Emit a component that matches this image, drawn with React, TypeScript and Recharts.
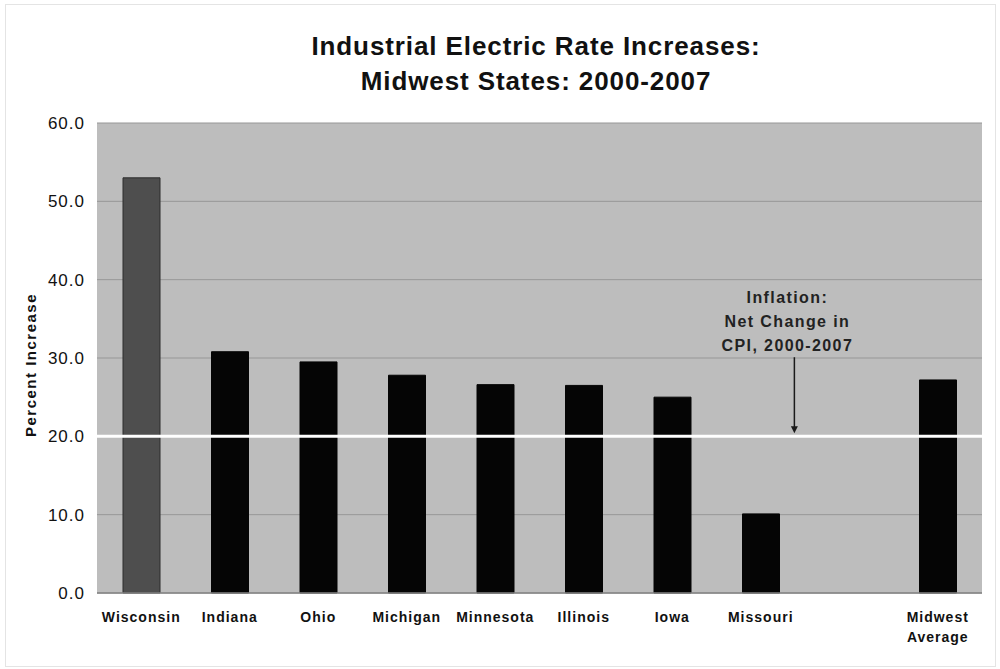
import { BarChart, Bar, XAxis, YAxis, CartesianGrid, ReferenceLine, Cell } from "recharts";

const states = [
  "Wisconsin",
  "Indiana",
  "Ohio",
  "Michigan",
  "Minnesota",
  "Illinois",
  "Iowa",
  "Missouri",
  "",
  "Midwest Average",
];
const increases = [53.0, 30.8, 29.5, 27.8, 26.6, 26.5, 25.0, 10.1, null, 27.2];
const yTicks = [0, 10, 20, 30, 40, 50, 60];
const inflation = 20.0;
const noteLines = ["Inflation:", "Net Change in", "CPI, 2000-2007"];
// arrow position on a hidden 0-10 axis (one unit per category slot)
const arrowX = 7.88;
const arrowTop = 30.1;
const arrowBottom = 20.4;

const data = states.map((state, i) => ({ state, slot: i + 0.5, increase: increases[i] }));

const FONT = "'Liberation Sans', Arial, Helvetica, sans-serif";

function StateTick({ x, y, payload }: any) {
  const words = payload.value === "Midwest Average" ? ["Midwest", "Average"] : [payload.value];
  return (
    <text
      x={x}
      y={y}
      textAnchor="middle"
      fontSize={14}
      fontWeight="bold"
      letterSpacing={1}
      fill="#111"
      fontFamily={FONT}
    >
      {words.map((w: string, i: number) => (
        <tspan key={i} x={x} dy={i === 0 ? 29 : 20}>
          {w}
        </tspan>
      ))}
    </text>
  );
}

function InflationNote({ x1, y1, x2, y2 }: any) {
  return (
    <g>
      {noteLines.map((line, i) => (
        <text
          key={i}
          x={x1 - 7}
          y={y1 - 54 + i * 24}
          textAnchor="middle"
          fontSize={16}
          fontWeight="bold"
          letterSpacing={1.4}
          fill="#222"
          fontFamily={FONT}
        >
          {line}
        </text>
      ))}
      <line x1={x1} y1={y1} x2={x2} y2={y2 - 5} stroke="#1a1a1a" strokeWidth={1.5} />
      <polygon points={`${x2 - 3.5},${y2 - 7} ${x2 + 3.5},${y2 - 7} ${x2},${y2}`} fill="#1a1a1a" />
    </g>
  );
}

function AxisTitle({ viewBox }: any) {
  const cx = viewBox.x + 30;
  const cy = viewBox.y + viewBox.height / 2 + 7;
  return (
    <text
      x={cx}
      y={cy}
      transform={`rotate(-90, ${cx}, ${cy})`}
      textAnchor="middle"
      dominantBaseline="central"
      fontSize={15}
      fontWeight="bold"
      letterSpacing={1.5}
      fill="#111"
      fontFamily={FONT}
    >
      Percent Increase
    </text>
  );
}

export default function App() {
  return (
    <div
      style={{
        position: "absolute",
        left: 0,
        top: 0,
        width: 1000,
        height: 669,
        background: "#fff",
        fontFamily: FONT,
      }}
    >
      <div
        style={{
          position: "absolute",
          left: 5,
          top: 4,
          width: 989,
          height: 661,
          border: "1px solid #e4e4e4",
        }}
      />
      <div
        style={{
          position: "absolute",
          left: 186,
          top: 29,
          width: 700,
          textAlign: "center",
          fontSize: 26,
          fontWeight: "bold",
          letterSpacing: 0.9,
          lineHeight: "35px",
          color: "#111",
        }}
      >
        Industrial Electric Rate Increases:
        <br />
        Midwest States: 2000-2007
      </div>
      <BarChart
        width={1000}
        height={669}
        data={data}
        margin={{ top: 123, right: 18, left: 0, bottom: 16 }}
        style={{ position: "absolute", left: 0, top: 0 }}
      >
        <CartesianGrid vertical={false} stroke="#979797" fill="#bdbdbd" />
        <XAxis
          dataKey="state"
          tick={<StateTick />}
          tickLine={false}
          tickSize={0}
          tickMargin={0}
          height={60}
          interval={0}
          axisLine={{ stroke: "#858585", strokeWidth: 1.5 }}
        />
        <XAxis
          xAxisId="num"
          dataKey="slot"
          type="number"
          domain={[0, 10]}
          allowDataOverflow
          hide
        />
        <YAxis
          width={97}
          domain={[0, 60]}
          ticks={yTicks}
          tickFormatter={(v) => Number(v).toFixed(1)}
          tick={{ fill: "#111", fontSize: 17, letterSpacing: 1, fontFamily: FONT }}
          tickLine={false}
          tickSize={0}
          tickMargin={12}
          axisLine={false}
          label={{ content: <AxisTitle /> }}
        />
        <Bar dataKey="increase" barSize={37} isAnimationActive={false}>
          {data.map((d, i) => (
            <Cell
              key={i}
              fill={i === 0 ? "#4e4e4e" : "#050505"}
              stroke={i === 0 ? "#2c2c2c" : "#050505"}
            />
          ))}
        </Bar>
        <ReferenceLine y={inflation} stroke="#ffffff" strokeWidth={3} />
        <ReferenceLine
          xAxisId="num"
          segment={[
            { x: arrowX, y: arrowTop },
            { x: arrowX, y: arrowBottom },
          ]}
          shape={<InflationNote />}
        />
      </BarChart>
    </div>
  );
}
